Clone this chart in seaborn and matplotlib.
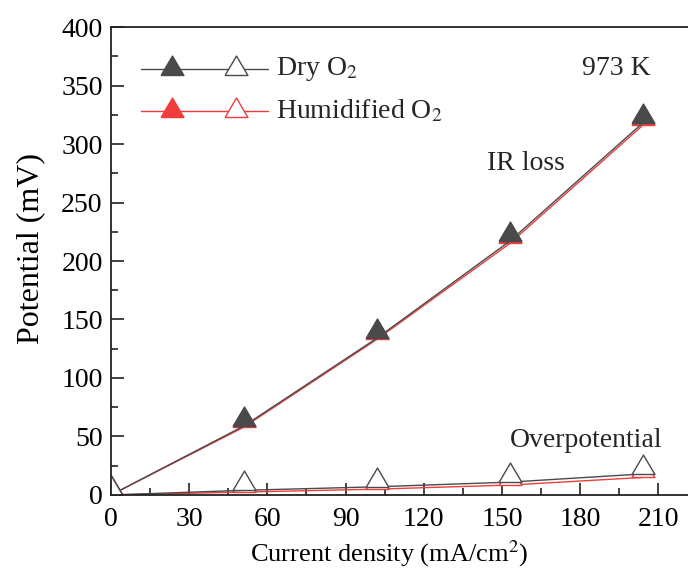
import matplotlib
matplotlib.use("Agg")
import matplotlib.pyplot as plt
import seaborn as sns
import numpy as np
import pandas as pd
from matplotlib.ticker import MultipleLocator

current = [0, 51, 102, 153, 204]
ir_dry = [0, 59, 134, 217, 318]
ir_hum = [0, 58, 133, 215, 316]
op_dry = [0, 4, 7, 11, 18]
op_hum = [0, 2.5, 5, 8.5, 15]

sns.set_theme(style="white")
plt.rcParams['font.family'] = ['Liberation Serif', 'DejaVu Serif']
plt.rcParams['mathtext.fontset'] = 'stix'

DARK = '#4a4a4a'
RED = '#f03c3c'
tri = [(-1, 0), (1, 0), (0, 1.7), (-1, 0)]

fig = plt.figure(figsize=(6.88, 5.70), dpi=100)
ax = fig.add_axes([0.1613, 0.1316, 0.8387 + 0.01, 0.821])

ms = 28
sns.lineplot(x=current, y=ir_hum, ax=ax, color=RED, lw=1.0, marker=tri,
             markersize=ms, markerfacecolor=RED, markeredgecolor=RED, markeredgewidth=1)
sns.lineplot(x=current, y=op_hum, ax=ax, color=RED, lw=1.0, marker=tri,
             markersize=ms, markerfacecolor='white', markeredgecolor=RED, markeredgewidth=1)
sns.lineplot(x=current, y=ir_dry, ax=ax, color=DARK, lw=1.0, marker=tri,
             markersize=ms, markerfacecolor=DARK, markeredgecolor=DARK, markeredgewidth=1)
sns.lineplot(x=current, y=op_dry, ax=ax, color=DARK, lw=1.0, marker=tri,
             markersize=ms, markerfacecolor='white', markeredgecolor=DARK, markeredgewidth=1)

ax.set_xlim(0, 224)
ax.set_ylim(0, 400)
ax.xaxis.set_major_locator(MultipleLocator(30))
ax.xaxis.set_minor_locator(MultipleLocator(15))
ax.yaxis.set_major_locator(MultipleLocator(50))
ax.yaxis.set_minor_locator(MultipleLocator(25))
ax.tick_params(which='major', direction='in', length=9, width=1.2, color='#222222',
               labelsize=20, labelcolor='black', pad=6, left=True, bottom=True)
ax.tick_params(axis='x', which='major', pad=9)
ax.tick_params(which='minor', direction='in', length=5, width=1.2, color='#222222',
               left=True, bottom=True)
for s in ['left', 'bottom', 'top']:
    ax.spines[s].set_color('#222222')
    ax.spines[s].set_linewidth(1.3)
ax.spines['right'].set_visible(False)

ax.set_xlabel('Current density (mA/cm$^2$)', fontsize=19, color='black')
ax.set_ylabel('Potential (mV)', fontsize=23, color='black')
ax.xaxis.set_label_coords(0.476, -0.092)
ax.yaxis.set_label_coords(-0.113, 0.526)

# legend drawn in axes coordinates
def ax_frac(px, py):
    return ((px - 111) / (688 - 111 + 6.9), (495 - py) / 468)

for (py, col, label) in [(69, DARK, 'Dry O$_2$'), (111, RED, 'Humidified O$_2$')]:
    x0, y0 = ax_frac(141, py)
    x1, _ = ax_frac(268, py)
    xa, _ = ax_frac(172, py)
    xb, _ = ax_frac(236, py)
    _, ym = ax_frac(0, py + 6)
    ax.plot([x0, x1], [y0, y0], color=col, lw=1.0, transform=ax.transAxes)
    ax.plot([xa], [ym], marker=tri, markersize=ms, color=col, markerfacecolor=col,
            markeredgecolor=col, transform=ax.transAxes, ls='none')
    ax.plot([xb], [ym], marker=tri, markersize=ms, color=col, markerfacecolor='white',
            markeredgecolor=col, transform=ax.transAxes, ls='none')
    xt, _ = ax_frac(276, py)
    ax.text(xt, y0, label, transform=ax.transAxes, fontsize=20, va='center', ha='left')

ax.text(*ax_frac(582, 68), '973 K', transform=ax.transAxes, fontsize=20, va='center', ha='left')
ax.text(*ax_frac(487, 163), 'IR loss', transform=ax.transAxes, fontsize=20, va='center', ha='left')
ax.text(*ax_frac(510, 441), 'Overpotential', transform=ax.transAxes, fontsize=20, va='center', ha='left')

fig.savefig('out.png', dpi=100)
